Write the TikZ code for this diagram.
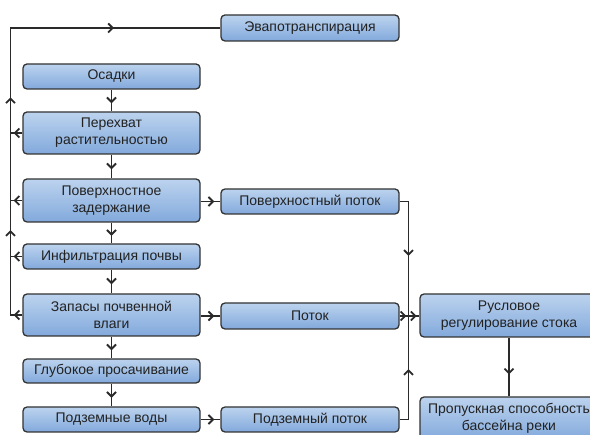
\documentclass[tikz,border=0pt]{standalone}
\usepackage{fontspec}
\setmainfont{Liberation Sans}
\usetikzlibrary{calc}
\definecolor{boxtop}{HTML}{BCD3EE}
\definecolor{boxbot}{HTML}{82A9DC}
\definecolor{boxline}{HTML}{333333}
\definecolor{txt}{HTML}{222222}
\definecolor{conn}{HTML}{2A2A2A}
\tikzset{
  procbox/.style={draw=boxline, line width=1.3pt, rounded corners=4pt,
    top color=boxtop, bottom color=boxbot, text=txt, align=center,
    font=\fontsize{14}{17}\selectfont, inner sep=0pt},
  leftbox/.style={procbox, minimum width=177pt},
  midbox/.style={procbox, minimum width=178pt, minimum height=26pt},
  rightbox/.style={procbox, minimum width=178pt, minimum height=43pt},
  conline/.style={draw=conn, line width=1.7pt},
  chevr/.pic={\draw[conn, line width=1.8pt, miter limit=4] (-3,-4.5) -- (1.5,0) -- (-3,4.5);},
  ch/.style={pos=#1, sloped, allow upside down}
}
\begin{document}
\begin{tikzpicture}[x=1pt,y=-1pt]
\useasboundingbox (0,0) rectangle (590,435);
% left column
\node[leftbox, minimum height=25pt] (osadki) at (111.5,76.5) {Осадки};
\node[leftbox, minimum height=42pt] (perehvat) at (111.5,133) {Перехват\\растительностью};
\node[leftbox, minimum height=43pt] (zaderzh) at (111.5,200.5) {Поверхностное\\задержание};
\node[leftbox, minimum height=25pt] (infil) at (111.5,256.5) {Инфильтрация почвы};
\node[leftbox, minimum height=42pt] (zapasy) at (111.5,315) {Запасы почвенной\\влаги};
\node[leftbox, minimum height=24pt] (glub) at (111.5,371) {Глубокое просачивание};
\node[leftbox, minimum height=25pt] (podvody) at (111.5,419.5) {Подземные воды};
% middle column
\node[midbox] (evap) at (310,28) {Эвапотранспирация};
\node[midbox, minimum height=25pt] (povpotok) at (310,201.5) {Поверхностный поток};
\node[midbox] (potok) at (310,316) {Поток};
\node[midbox, minimum height=25pt] (podpotok) at (310,419.5) {Подземный поток};
% right column
\node[rightbox] (rusl) at (509,315.5) {Русловое\\регулирование стока};
\node[rightbox] (propusk) at (509,418.5) {Пропускная способность\\бассейна реки};
% coordinates
\coordinate (fbx) at (10.5,0);
\coordinate (rx) at (408.5,0);
\coordinate (fbtop) at (10.5,28);
% downward chain
\draw[conline] (osadki) -- pic[ch=0.5]{chevr} (perehvat);
\draw[conline] (perehvat) -- pic[ch=0.5]{chevr} (zaderzh);
\draw[conline] (zaderzh) -- pic[ch=0.5]{chevr} (infil);
\draw[conline] (infil) -- pic[ch=0.5]{chevr} (zapasy);
\draw[conline] (zapasy) -- pic[ch=0.5]{chevr} (glub);
\draw[conline] (glub) -- pic[ch=0.5]{chevr} (podvody);
% feedback to evapotranspiration
\draw[conline] (zapasy.west) -- pic[ch=0.5]{chevr} (fbx |- zapasy)
  -- pic[ch=0.286]{chevr} pic[ch=0.749]{chevr} (fbtop) -- (evap.west);
\pic at ($(fbtop)!0.48!(evap.west)$) {chevr};
\draw[conline] (perehvat.west) -- pic[ch=0.5]{chevr} (perehvat.west -| fbx);
\draw[conline] (zaderzh.west) -- pic[ch=0.5]{chevr} (zaderzh.west -| fbx);
\draw[conline] (infil.west) -- pic[ch=0.5]{chevr} (infil.west -| fbx);
% outflows to the right
\draw[conline] (zaderzh.east |- povpotok) -- pic[ch=0.55]{chevr} (povpotok.west);
\draw[conline] (zapasy.east |- potok) -- pic[ch=0.55]{chevr} (potok.west);
\draw[conline] (podvody.east) -- pic[ch=0.55]{chevr} (podpotok.west);
% to channel regulation
\draw[conline] (potok.east) -- pic[ch=0.2]{chevr} (rusl.west |- potok);
\draw[conline] (povpotok.east) -- (rx |- povpotok) -- pic[ch=0.45]{chevr} (rx |- potok)
  -- pic[ch=0.5]{chevr} (rusl.west |- potok);
\draw[conline] (podpotok.east) -- (rx |- podpotok) -- pic[ch=0.46]{chevr} (rx |- potok);
\draw[conline] (rusl) -- pic[ch=0.58]{chevr} (propusk);
\end{tikzpicture}
\end{document}
